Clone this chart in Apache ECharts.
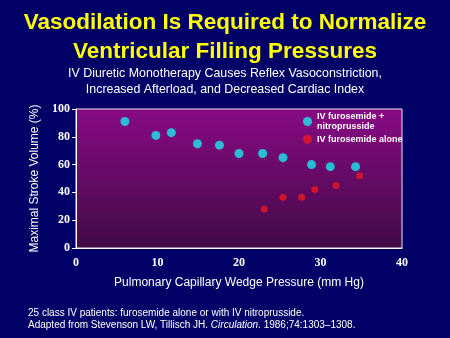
<!DOCTYPE html>
<html>
<head>
<meta charset="utf-8">
<script src="https://cdn.jsdelivr.net/npm/echarts@6/dist/echarts.min.js"></script>
<style>
html,body{margin:0;padding:0;background:#000066;}
#c{width:450px;height:338px;}
</style>
</head>
<body>
<div id="c"></div>
<script>
const xTicks = [0, 10, 20, 30, 40];
const yTicks = [0, 20, 40, 60, 80, 100];
const seriesNames = ['IV furosemide +\nnitroprusside', 'IV furosemide alone'];
const nitroX = [6, 9.8, 11.7, 14.9, 17.6, 20, 22.9, 25.4, 28.9, 31.2, 34.3];
const nitroY = [91, 81, 83, 75, 74, 68, 68, 65, 60, 58.5, 58.5];
const aloneX = [23.1, 25.4, 27.7, 29.3, 31.9, 34.8];
const aloneY = [28, 36.5, 36.5, 42, 45, 52];

const chart = echarts.init(document.getElementById('c'), null, {renderer: 'canvas'});
const sans = 'Liberation Sans, Arial, sans-serif';
const serif = 'Liberation Serif, Times New Roman, serif';

chart.setOption({
  backgroundColor: '#000066',
  animation: false,
  title: [
    {text: 'Vasodilation Is Required to Normalize\nVentricular Filling Pressures', left: 'center', top: 4,
     textStyle: {color: '#ffff00', fontFamily: sans, fontWeight: 'bold', fontSize: 22.5, lineHeight: 28.5}},
    {text: 'IV Diuretic Monotherapy Causes Reflex Vasoconstriction,\nIncreased Afterload, and Decreased Cardiac Index', left: 'center', top: 60,
     textStyle: {color: '#ffffff', fontFamily: sans, fontWeight: 'normal', fontSize: 12.4, lineHeight: 16.5}}
  ],
  graphic: [
    {type: 'text', left: 28, top: 307, style: {
      text: '25 class IV patients: furosemide alone or with IV nitroprusside.\nAdapted from Stevenson LW, Tillisch JH. {i|Circulation}. 1986;74:1303\u20131308.',
      fill: '#ffffff', font: '10px ' + sans, lineHeight: 12,
      rich: {i: {fontStyle: 'italic', fontSize: 10, fontFamily: sans, fill: '#ffffff'}}
    }}
  ],
  legend: {
    orient: 'vertical', left: 298, top: 106, itemGap: 2, itemWidth: 9, itemHeight: 9,
    icon: 'circle',
    textStyle: {color: '#ffffff', fontFamily: sans, fontWeight: 'bold', fontSize: 9, lineHeight: 10.5},
    data: [{name: seriesNames[0], itemStyle: {color: '#19e8f0'}}, {name: seriesNames[1], itemStyle: {color: '#e81822'}}]
  },
  grid: {
    left: 76, right: 48, top: 109, bottom: 90, show: true,
    borderColor: '#e8e8e8', borderWidth: 1,
    backgroundColor: new echarts.graphic.LinearGradient(0, 0, 0, 1, [
      {offset: 0, color: '#880a84'}, {offset: 1, color: '#420a46'}
    ])
  },
  xAxis: {
    type: 'value', min: xTicks[0], max: xTicks[xTicks.length - 1], interval: 10,
    name: 'Pulmonary Capillary Wedge Pressure (mm Hg)', nameLocation: 'middle', nameGap: 29,
    nameTextStyle: {color: '#ffffff', fontFamily: sans, fontSize: 12},
    axisLine: {show: true, lineStyle: {color: '#ffffff'}},
    axisTick: {show: false},
    splitLine: {show: false},
    axisLabel: {color: '#ffffff', fontFamily: serif, fontWeight: 'bold', fontSize: 12, margin: 9}
  },
  yAxis: {
    type: 'value', min: yTicks[0], max: yTicks[yTicks.length - 1], interval: 20,
    name: 'Maximal Stroke Volume (%)', nameLocation: 'middle', nameGap: 29, nameRotate: 90,
    nameTextStyle: {color: '#ffffff', fontFamily: sans, fontSize: 12},
    axisLine: {show: true, lineStyle: {color: '#ffffff'}},
    axisTick: {show: true, length: 4, lineStyle: {color: '#ffffff'}},
    splitLine: {show: false},
    axisLabel: {color: '#ffffff', fontFamily: serif, fontWeight: 'bold', fontSize: 12, margin: 6}
  },
  series: [
    {name: seriesNames[0], type: 'scatter', symbol: 'circle', symbolSize: 9,
     itemStyle: {color: '#19e8f0'}, data: nitroX.map((x, i) => [x, nitroY[i]])},
    {name: seriesNames[1], type: 'scatter', symbol: 'circle', symbolSize: 7,
     itemStyle: {color: '#e81822'}, data: aloneX.map((x, i) => [x, aloneY[i]])}
  ]
});
</script>
</body>
</html>
